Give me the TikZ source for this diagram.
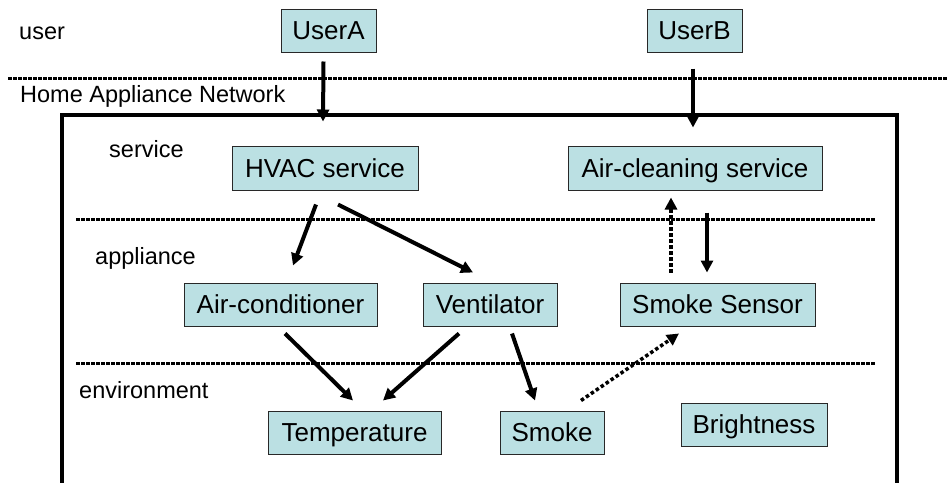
\documentclass[tikz,border=0pt]{standalone}
\usepackage{fontspec}
\setmainfont{Liberation Sans}
\usetikzlibrary{arrows.meta,calc}
\definecolor{boxfill}{RGB}{187,224,227}
\definecolor{boxline}{RGB}{40,40,40}
\tikzset{
  box/.style={draw=boxline,line width=1pt,fill=boxfill,inner sep=0pt,
    text height=18.6pt,text depth=0pt,
    font=\fontsize{26}{30}\selectfont},
  lbl/.style={anchor=base west,inner sep=0pt,font=\fontsize{23.5}{28}\selectfont},
  sep/.style={line width=3pt,dash pattern=on 3.5pt off 1.5pt},
  arr/.style={line width=4pt,-{Triangle[width=12pt,length=12pt]}},
  darr/.style={line width=3.5pt,dash pattern=on 3.5pt off 2.5pt,-{Triangle[width=12pt,length=12pt]}},
}
\begin{document}
\begin{tikzpicture}[x=1pt,y=-1pt]
\useasboundingbox (0,0) rectangle (947,482);
\begin{scope}
\clip (0,0) rectangle (947,482);
\draw[line width=3.5pt] (62,495) -- (62,115) -- (897,115) -- (897,495);
\end{scope}
\draw[sep] (8,78) -- (947,78);
\draw[sep] (76,219) -- (875,219);
\draw[sep] (76,363) -- (875,363);

\node[lbl] (luser) at (19,39) {user};
\node[lbl] (lhan) at (20,102) {Home Appliance Network};
\node[lbl] (lserv) at (109,157) {service};
\node[lbl] (lapp) at (95,264) {appliance};
\node[lbl] (lenv) at (79,398) {environment};

\node[box,minimum width=95pt,minimum height=43pt] (ua) at (328.5,30.5) {UserA};
\node[box,minimum width=95pt,minimum height=43pt] (ub) at (694.5,30.5) {UserB};
\node[box,minimum width=186pt,minimum height=44pt] (hvac) at (325,168) {HVAC service};
\node[box,minimum width=254pt,minimum height=44pt] (ac) at (695,168) {Air-cleaning service};
\node[box,minimum width=193pt,minimum height=43pt] (acond) at (280.5,304.5) {Air-conditioner};
\node[box,minimum width=134pt,minimum height=43pt] (vent) at (490,304.5) {Ventilator};
\node[box,minimum width=195pt,minimum height=43pt] (ss) at (717.5,304.5) {Smoke Sensor};
\node[box,minimum width=173pt,minimum height=43pt] (temp) at (354.5,432.5) {Temperature};
\node[box,minimum width=104pt,minimum height=43pt] (smoke) at (552,432.5) {Smoke};
\node[box,minimum width=146pt,minimum height=43pt] (bright) at (754,424.5) {Brightness};

\draw[arr] ($(ua.south)+(-5,9)$) -- ($(hvac.north)+(-2,-24)$);
\draw[arr] ($(ub.south)+(-1.5,16)$) -- ($(ac.north)+(-2,-18)$);
\draw[arr] ($(hvac.south)+(-9,14)$) -- ($(acond.north)+(12.5,-17)$);
\draw[arr] ($(hvac.south)+(13,14)$) -- ($(vent.north)+(-17,-10)$);
\draw[arr] ($(acond.south)+(4.5,7)$) -- ($(temp.north)+(-1.5,-10)$);
\draw[arr] ($(vent.south)+(-31,7)$) -- ($(temp.north)+(28.5,-10)$);
\draw[arr] ($(vent.south)+(22,7)$) -- ($(smoke.north)+(-17,-10)$);
\draw[darr] ($(smoke.north)+(29,-10)$) -- ($(ss.south)+(-38.5,7)$);
\draw[darr] ($(ss.north)+(-46.5,-10)$) -- ($(ac.south)+(-24,7)$);
\draw[arr] ($(ac.south)+(12,22)$) -- ($(ss.north)+(-10.5,-10)$);
\end{tikzpicture}
\end{document}
